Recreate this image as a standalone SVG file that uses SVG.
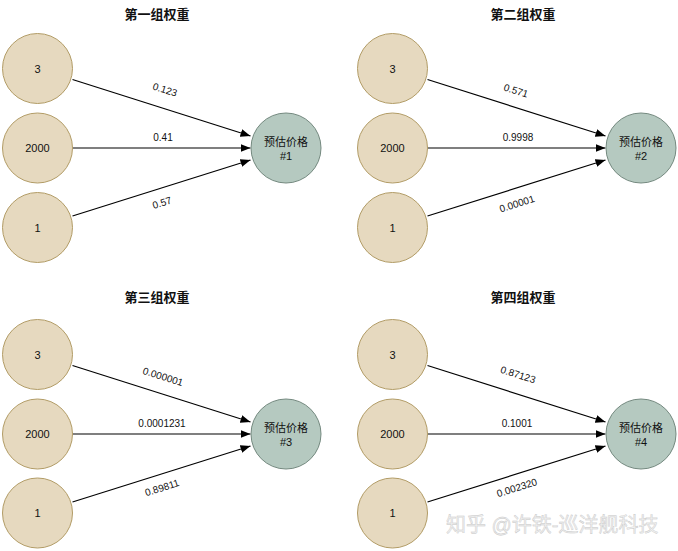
<svg xmlns="http://www.w3.org/2000/svg" width="678" height="551" viewBox="0 0 678 551">
<defs>
<marker id="arr" viewBox="0 0 10 8" refX="10" refY="4" markerWidth="10" markerHeight="8" markerUnits="userSpaceOnUse" orient="auto">
<path d="M0,0 L10,4 L0,8 Z" fill="#000"/>
</marker>
</defs>
<style>
text{font-family:"Liberation Sans","Noto Sans CJK SC",sans-serif;fill:#111}
.in{fill:#e6d9bf;stroke:#b29c66;stroke-width:1}
.out{fill:#b5c9c0;stroke:#74897f;stroke-width:1}
.nl{font-size:11px;text-anchor:middle}
.ttl{font-size:13px;font-weight:bold;text-anchor:middle}
.el{font-size:10px;text-anchor:middle}
.edge{stroke:#000;stroke-width:1.2;fill:none;marker-end:url(#arr)}
.wm{font-size:20px;fill:#f0f0f0;stroke:#c6c6c6;stroke-width:0.4}
</style>
<rect width="678" height="551" fill="#fff"/>

<!-- titles -->
<g id="titles">
<text class="ttl" x="157" y="19">第一组权重</text>
<text class="ttl" x="523" y="19">第二组权重</text>
<text class="ttl" x="157" y="302">第三组权重</text>
<text class="ttl" x="523" y="302">第四组权重</text>
</g>

<!-- panel 1 -->
<g id="connectors1">
<line class="edge" x1="72.5" y1="79.5" x2="250.5" y2="136"/>
<line class="edge" x1="73" y1="148" x2="250.5" y2="148"/>
<line class="edge" x1="72.5" y1="216" x2="250.5" y2="160"/>
<text class="el" transform="translate(164,93) rotate(17.6)">0.123</text>
<text class="el" x="163" y="141">0.41</text>
<text class="el" transform="translate(163,206) rotate(-17.6)">0.57</text>
</g>
<g id="p1-in3"><circle class="in" cx="37.5" cy="68.5" r="35"/><text class="nl" x="37.5" y="72.5">3</text></g>
<g id="p1-in2000"><circle class="in" cx="37.5" cy="148" r="35"/><text class="nl" x="37.5" y="152">2000</text></g>
<g id="p1-in1"><circle class="in" cx="37.5" cy="227.5" r="35"/><text class="nl" x="37.5" y="231.5">1</text></g>
<g id="p1-out"><circle class="out" cx="286" cy="148" r="35"/><text class="nl" x="286" y="146">预估价格</text><text class="nl" x="286" y="160">#1</text></g>

<!-- panel 2 -->
<g id="connectors2">
<line class="edge" x1="427.5" y1="79.5" x2="605.5" y2="136"/>
<line class="edge" x1="428" y1="148" x2="605.5" y2="148"/>
<line class="edge" x1="427.5" y1="216" x2="605.5" y2="160"/>
<text class="el" transform="translate(515,94) rotate(17.6)">0.571</text>
<text class="el" x="518" y="141">0.9998</text>
<text class="el" transform="translate(518,207) rotate(-17.6)">0.00001</text>
</g>
<g id="p2-in3"><circle class="in" cx="392.5" cy="68.5" r="35"/><text class="nl" x="392.5" y="72.5">3</text></g>
<g id="p2-in2000"><circle class="in" cx="392.5" cy="148" r="35"/><text class="nl" x="392.5" y="152">2000</text></g>
<g id="p2-in1"><circle class="in" cx="392.5" cy="227.5" r="35"/><text class="nl" x="392.5" y="231.5">1</text></g>
<g id="p2-out"><circle class="out" cx="641" cy="148" r="35"/><text class="nl" x="641" y="146">预估价格</text><text class="nl" x="641" y="160">#2</text></g>

<!-- panel 3 -->
<g id="connectors3">
<line class="edge" x1="72.5" y1="365.5" x2="250.5" y2="422"/>
<line class="edge" x1="73" y1="434" x2="250.5" y2="434"/>
<line class="edge" x1="72.5" y1="502" x2="250.5" y2="446"/>
<text class="el" transform="translate(162,380) rotate(17.6)">0.000001</text>
<text class="el" x="162" y="427">0.0001231</text>
<text class="el" transform="translate(163,491) rotate(-17.6)">0.89811</text>
</g>
<g id="p3-in3"><circle class="in" cx="37.5" cy="354.5" r="35"/><text class="nl" x="37.5" y="358.5">3</text></g>
<g id="p3-in2000"><circle class="in" cx="37.5" cy="434" r="35"/><text class="nl" x="37.5" y="438">2000</text></g>
<g id="p3-in1"><circle class="in" cx="37.5" cy="513" r="35"/><text class="nl" x="37.5" y="517">1</text></g>
<g id="p3-out"><circle class="out" cx="286" cy="434" r="35"/><text class="nl" x="286" y="432">预估价格</text><text class="nl" x="286" y="446">#3</text></g>

<!-- panel 4 -->
<g id="connectors4">
<line class="edge" x1="427.5" y1="365.5" x2="605.5" y2="422"/>
<line class="edge" x1="428" y1="434" x2="605.5" y2="434"/>
<line class="edge" x1="427.5" y1="502" x2="605.5" y2="446"/>
<text class="el" transform="translate(517,378) rotate(17.6)">0.87123</text>
<text class="el" x="517" y="427">0.1001</text>
<text class="el" transform="translate(518,491) rotate(-17.6)">0.002320</text>
</g>
<g id="p4-in3"><circle class="in" cx="392.5" cy="354.5" r="35"/><text class="nl" x="392.5" y="358.5">3</text></g>
<g id="p4-in2000"><circle class="in" cx="392.5" cy="434" r="35"/><text class="nl" x="392.5" y="438">2000</text></g>
<g id="p4-in1"><circle class="in" cx="392.5" cy="513" r="35"/><text class="nl" x="392.5" y="517">1</text></g>
<g id="p4-out"><circle class="out" cx="641" cy="434" r="35"/><text class="nl" x="641" y="432">预估价格</text><text class="nl" x="641" y="446">#4</text></g>

<text class="wm" x="446" y="532">知乎 @许铁-巡洋舰科技</text>
</svg>
